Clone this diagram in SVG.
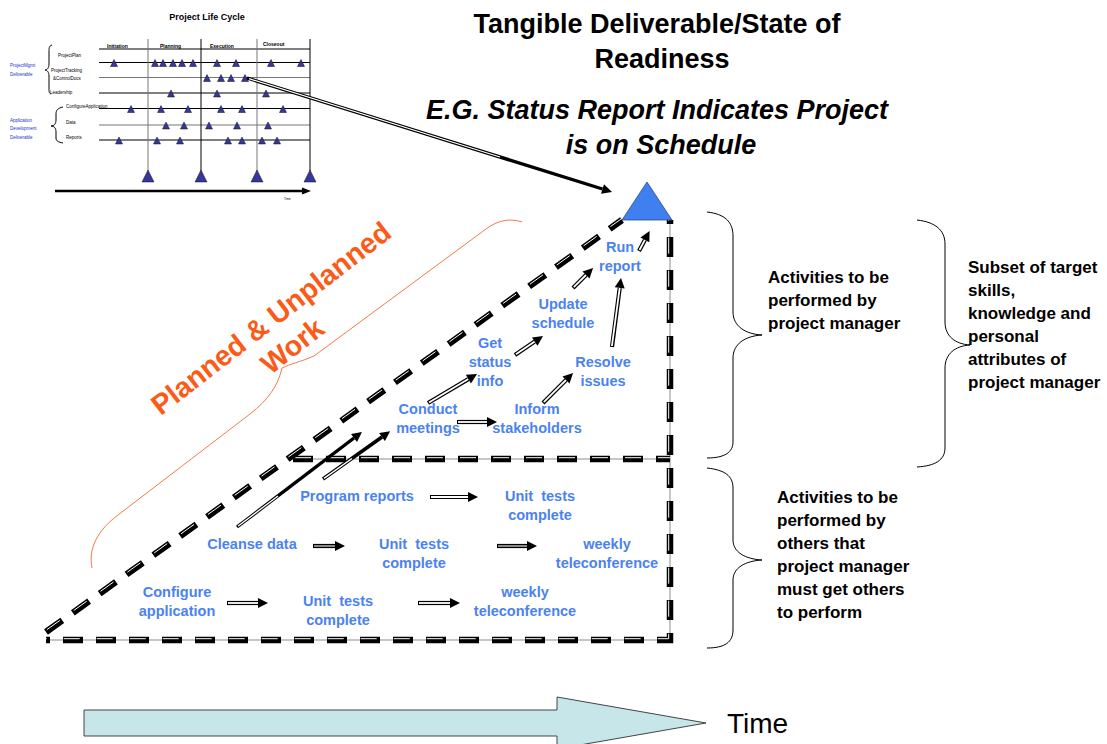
<svg xmlns="http://www.w3.org/2000/svg" width="1107" height="744" viewBox="0 0 1107 744">
<style>
text{font-family:"Liberation Sans",Arial,Helvetica,sans-serif}
.title{font-size:27px;font-weight:bold;fill:#000;text-anchor:middle}
.sub{font-size:27px;font-weight:bold;font-style:italic;fill:#000;text-anchor:middle}
.task{font-size:14.5px;font-weight:bold;fill:#4b82f2;text-anchor:middle}
.note{font-size:17px;font-weight:bold;fill:#000}
.pc{font-size:9px;font-weight:bold;text-anchor:middle;fill:#000}
.tiny{font-size:4.5px;fill:#000}
.tinyb{font-size:4.5px;fill:#2233cc}
.ph{font-size:5px;font-weight:bold;fill:#000}
.gl{stroke:#000;stroke-width:1}
.gg{stroke:#777;stroke-width:1}
.mt{fill:#36369c;stroke:#111;stroke-width:0.5}
.brace{fill:none;stroke:#000;stroke-width:1}
.dk{fill:none;stroke:#000;stroke-width:6.5;stroke-dasharray:20 13}
.dw{fill:none;stroke:#fff;stroke-width:1;stroke-dasharray:16 17}
.rail{fill:none;stroke:#b4b4b4;stroke-width:1.5}
.o{fill:none;stroke:#000;stroke-width:4.2}
.i{fill:none;stroke:#fff;stroke-width:1.8}
.work{font-size:28.5px;font-weight:bold;fill:#fb5b17;text-anchor:middle}
</style>
<defs>
<marker id="hd" viewBox="0 0 10 10" refX="0" refY="5" markerWidth="11" markerHeight="10" markerUnits="userSpaceOnUse" orient="auto">
<path d="M0,0 L10,5 L0,10 Z" fill="#000"/>
</marker>
<path id="mt" class="mt" d="M0,-3 L3.5,4 L-3.5,4 Z"/>
<path id="bt" class="mt" d="M0,0 L6,12 L-6,12 Z"/>
</defs>

<!-- Project life cycle chart (top left) -->
<g id="lifecycle">
<text class="pc" x="207" y="20">Project Life Cycle</text>
<g>
<line class="gl" x1="99" y1="49" x2="310" y2="49"/>
<line class="gl" x1="99" y1="62.5" x2="310" y2="62.5"/>
<line class="gg" x1="99" y1="77.5" x2="310" y2="77.5"/>
<line class="gl" x1="99" y1="93" x2="310" y2="93"/>
<line class="gl" x1="99" y1="108.5" x2="310" y2="108.5"/>
<line class="gg" x1="99" y1="125" x2="310" y2="125"/>
<line class="gl" x1="99" y1="140" x2="310" y2="140"/>
<line class="gg" x1="148" y1="39" x2="148" y2="171"/>
<line class="gl" x1="201" y1="39" x2="201" y2="171"/>
<line class="gg" x1="257" y1="39" x2="257" y2="171"/>
<line class="gl" x1="310" y1="39" x2="310" y2="171"/>
</g>
<text class="ph" x="107" y="48">Initiation</text>
<text class="ph" x="160" y="48">Planning</text>
<text class="ph" x="210" y="48">Execution</text>
<text class="ph" x="263" y="46">Closeout</text>
<text class="tiny" x="58" y="56.5">ProjectPlan</text>
<text class="tiny" x="51" y="71.5">ProjectTracking</text>
<text class="tiny" x="53" y="79.5">&amp;ControlDocs</text>
<text class="tiny" x="50" y="94">Leadership</text>
<text class="tiny" x="66" y="108">ConfigureApplication</text>
<text class="tiny" x="66" y="124">Data</text>
<text class="tiny" x="66" y="139">Reports</text>
<text class="tinyb" x="10" y="66.5">ProjectMgmt</text>
<text class="tinyb" x="10" y="76">Deliverable</text>
<text class="tinyb" x="10" y="121.5">Application</text>
<text class="tinyb" x="10" y="130">Development</text>
<text class="tinyb" x="10" y="138.5">Deliverable</text>
<path class="brace" d="M52,45 C49,46 49,48 49,52 L49,64 C49,68 47,70 45,70 C47,70 49,72 49,76 L49,88 C49,92 49,93 51,94"/>
<path class="brace" d="M63,107 C58,108 56,110 56,114 L56,120 C56,124 54,126 51,126 C54,126 56,128 56,132 L56,138 C56,141 58,142 63,143"/>
<!-- milestones -->
<g>
<use href="#mt" x="114" y="62.5"/><use href="#mt" x="155" y="62.5"/><use href="#mt" x="163" y="62.5"/><use href="#mt" x="173" y="62.5"/><use href="#mt" x="182" y="62.5"/><use href="#mt" x="193" y="62.5"/><use href="#mt" x="217" y="62.5"/><use href="#mt" x="236" y="62.5"/><use href="#mt" x="271" y="62.5"/><use href="#mt" x="301" y="62.5"/>
<use href="#mt" x="207" y="77.5"/><use href="#mt" x="221" y="77.5"/><use href="#mt" x="231" y="77.5"/><use href="#mt" x="245" y="77.5"/>
<use href="#mt" x="171" y="93"/><use href="#mt" x="217" y="93"/><use href="#mt" x="266" y="93"/>
<use href="#mt" x="131" y="108.5"/><use href="#mt" x="161" y="108.5"/><use href="#mt" x="188" y="108.5"/><use href="#mt" x="221" y="108.5"/><use href="#mt" x="242" y="108.5"/><use href="#mt" x="283" y="108.5"/>
<use href="#mt" x="166" y="125"/><use href="#mt" x="184" y="125"/><use href="#mt" x="209" y="125"/><use href="#mt" x="237" y="125"/><use href="#mt" x="268" y="125"/>
<use href="#mt" x="119" y="140"/><use href="#mt" x="157" y="140"/><use href="#mt" x="180" y="140"/><use href="#mt" x="228" y="140"/><use href="#mt" x="242" y="140"/><use href="#mt" x="262" y="140"/><use href="#mt" x="277" y="140"/>
<use href="#bt" x="148" y="170"/><use href="#bt" x="201" y="170"/><use href="#bt" x="257" y="170"/><use href="#bt" x="310" y="170"/>
</g>
<line x1="55" y1="191" x2="303" y2="191" stroke="#000" stroke-width="2.5"/>
<path d="M302,187.5 L311,191 L302,194.5 Z" fill="#000"/>
<text class="tiny" x="284" y="200" style="font-size:3px">Time</text>
</g>

<!-- Headings -->
<g id="heading">
<text class="title" x="657" y="33">Tangible Deliverable/State of</text>
<text class="title" x="662" y="68">Readiness</text>
<text class="sub" x="657" y="119">E.G. Status Report Indicates Project</text>
<text class="sub" x="661" y="154">is on Schedule</text>
</g>

<!-- Work envelope: dashed outline -->
<g id="envelope">
<path class="rail" d="M670,220 V640 H46"/>
<path class="rail" d="M293,459 H670"/>
<path class="dk" d="M670,220 V640 H46" style="stroke-dashoffset:16"/>
<path class="dw" d="M670,220 V640 H46" transform="translate(-1.3,-1.3)" style="stroke-dashoffset:14"/>
<path class="dk" d="M293,459 H670"/>
<path class="dw" d="M293,459 H670" transform="translate(0,-1.3)" style="stroke-dashoffset:-2"/>
<path class="dk" d="M46,632 L622,220"/>
<path class="dw" d="M46,632 L622,220" transform="translate(-0.8,-1.1)" style="stroke-dashoffset:-2"/>
</g>

<!-- Deliverable marker -->
<g id="deliverable">
<path d="M647,182 L672,220 L622,220 Z" fill="#3f7fef" stroke="#2a4a8a" stroke-width="0.8"/>
</g>

<!-- Planned & Unplanned Work label -->
<g id="work-label">
<path d="M92,568 C88,548 98,530 118,515 L250,414 C268,400 278,386 282,368 C290,364 300,362 314,356 L486,229 C498,220 510,218 522,222" fill="none" stroke="#f47a4a" stroke-width="1"/>
<text class="work" transform="translate(277,326) rotate(-37.8)"><tspan x="0" y="0">Planned &amp; Unplanned</tspan><tspan x="0" y="35">Work</tspan></text>
</g>

<!-- Activity nodes -->
<g id="n-run"><text class="task" x="620" y="252">Run</text><text class="task" x="620" y="271">report</text></g>
<g id="n-update"><text class="task" x="563" y="309">Update</text><text class="task" x="563" y="328">schedule</text></g>
<g id="n-status"><text class="task" x="490" y="348">Get</text><text class="task" x="490" y="367">status</text><text class="task" x="490" y="386">info</text></g>
<g id="n-resolve"><text class="task" x="603" y="367">Resolve</text><text class="task" x="603" y="386">issues</text></g>
<g id="n-meetings"><text class="task" x="428" y="414">Conduct</text><text class="task" x="428" y="433">meetings</text></g>
<g id="n-inform"><text class="task" x="537" y="414">Inform</text><text class="task" x="537" y="433">stakeholders</text></g>
<g id="n-program"><text class="task" x="357" y="501">Program reports</text></g>
<g id="n-unit1"><text class="task" x="540" y="501" xml:space="preserve">Unit  tests</text><text class="task" x="540" y="520">complete</text></g>
<g id="n-cleanse"><text class="task" x="252" y="549">Cleanse data</text></g>
<g id="n-unit2"><text class="task" x="414" y="549" xml:space="preserve">Unit  tests</text><text class="task" x="414" y="568">complete</text></g>
<g id="n-weekly1"><text class="task" x="607" y="549">weekly</text><text class="task" x="607" y="568">teleconference</text></g>
<g id="n-configure"><text class="task" x="177" y="597">Configure</text><text class="task" x="177" y="616">application</text></g>
<g id="n-unit3"><text class="task" x="338" y="606" xml:space="preserve">Unit  tests</text><text class="task" x="338" y="625">complete</text></g>
<g id="n-weekly2"><text class="task" x="525" y="597">weekly</text><text class="task" x="525" y="616">teleconference</text></g>

<!-- Connectors -->
<g id="connectors">
<g><path class="o" d="M247,78 L602.5,189" style="stroke-width:3.4" marker-end="url(#hd)"/><path class="i" d="M249,78.6 L500,157" style="stroke-width:1.2"/></g>
<g><path class="o" d="M227,603 H258"/><path class="i" d="M228,603 H258" marker-end="url(#hd)"/></g>
<g><path class="o" d="M418,603 H450"/><path class="i" d="M419,603 H450" marker-end="url(#hd)"/></g>
<g><path class="o" d="M313,546 H335"/><path class="i" d="M314,546 H335" style="stroke:#999" marker-end="url(#hd)"/></g>
<g><path class="o" d="M497,546 H527"/><path class="i" d="M498,546 H527" style="stroke:#999" marker-end="url(#hd)"/></g>
<g><path class="o" d="M430,497 H468"/><path class="i" d="M431,497 H468" marker-end="url(#hd)"/></g>
<g><path class="o" d="M237,527 L354,438" style="stroke-width:3.4" marker-end="url(#hd)"/><path class="i" d="M238,526.2 L278,496" style="stroke-width:1.3"/></g>
<g><path class="o" d="M323,479 L382,437" style="stroke-width:3.6" marker-end="url(#hd)"/><path class="i" d="M324,478.3 L352,458.5" style="stroke-width:1.5"/></g>
<g><path class="o" d="M428,403 L468.4,379.1"/><path class="i" d="M429,402.4 L468.4,379.1" marker-end="url(#hd)"/></g>
<g><path class="o" d="M457,422 H487"/><path class="i" d="M458,422 H487" marker-end="url(#hd)"/></g>
<g><path class="o" d="M515,355 L534.7,341.6"/><path class="i" d="M516,354.3 L534.7,341.6" marker-end="url(#hd)"/></g>
<g><path class="o" d="M543,403 L566,380"/><path class="i" d="M543.8,402.2 L566,380" marker-end="url(#hd)"/></g>
<g><path class="o" d="M612,347 L619.7,287.9"/><path class="i" d="M611.9,346 L619.7,287.9" marker-end="url(#hd)"/></g>
<g><path class="o" d="M573,288 L586,275"/><path class="i" d="M573.8,287.2 L586,275" marker-end="url(#hd)"/></g>
<g><path class="o" d="M639,251 L644.9,239.9"/><path class="i" d="M639.5,250 L644.9,239.9" marker-end="url(#hd)"/></g>
</g>

<!-- Braces and notes on the right -->
<g id="note-pm">
<path class="brace" d="M707,212 C725,214 733,222 733,236 L733,312 C733,326 745,334 762,335 C745,336 733,344 733,358 L733,442 C733,452 725,458 707,458"/>
<text class="note" x="768" y="283">Activities to be</text>
<text class="note" x="768" y="306">performed by</text>
<text class="note" x="768" y="329">project manager</text>
</g>
<g id="note-skills">
<path class="brace" d="M917,220 C935,222 945,230 945,244 L945,322 C945,336 955,344 970,345 C955,346 945,354 945,368 L945,448 C945,460 935,466 917,467"/>
<text class="note" x="968" y="273">Subset of target</text>
<text class="note" x="968" y="296">skills,</text>
<text class="note" x="968" y="319">knowledge and</text>
<text class="note" x="968" y="342">personal</text>
<text class="note" x="968" y="365">attributes of</text>
<text class="note" x="968" y="388">project manager</text>
</g>
<g id="note-others">
<path class="brace" d="M707,468 C725,470 733,476 733,488 L733,540 C733,552 745,559 762,560 C745,561 733,568 733,580 L733,630 C733,642 725,648 707,648"/>
<text class="note" x="777" y="503">Activities to be</text>
<text class="note" x="777" y="526">performed by</text>
<text class="note" x="777" y="549">others that</text>
<text class="note" x="777" y="572">project manager</text>
<text class="note" x="777" y="595">must get others</text>
<text class="note" x="777" y="618">to perform</text>
</g>

<!-- Time axis -->
<g id="time">
<path d="M84,710 L557,710 L557,697 L706,723 L557,749 L557,736 L84,736 Z" fill="#c6e6ea" stroke="#444" stroke-width="1"/>
<text x="727" y="733" style="font-size:28px;fill:#000">Time</text>
</g>
</svg>
